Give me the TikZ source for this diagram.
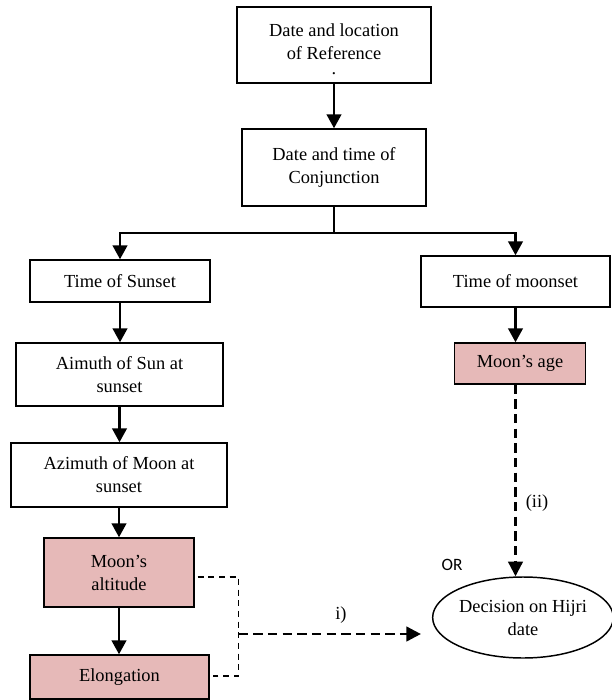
\documentclass[tikz,border=0pt]{standalone}
\usepackage{fontspec}
\setmainfont{Liberation Serif}
\newfontfamily\orfont{Carlito}
\usetikzlibrary{arrows.meta,shapes.geometric,calc}
\newdimen\pxu \pxu=0.75pt
\definecolor{pinkbox}{HTML}{E6B9B8}
\begin{document}
\begin{tikzpicture}[x=0.75pt,y=-0.75pt,
  box/.style={draw=black,line width=1.1pt,fill=white,align=center,inner sep=0pt,
    font=\fontsize{13.8}{17.25}\selectfont},
  pinkb/.style={box,fill=pinkbox},
  arr/.style={line width=1.8pt,-{Triangle[width=11pt,length=10.5pt]}},
  solidline/.style={line width=1.8pt},
  thickdash/.style={line width=1.7pt,dash pattern=on 7pt off 4pt},
  thindash/.style={line width=1.1pt,dash pattern=on 4.5pt off 3.5pt},
  lbl/.style={font=\fontsize{13.8}{17.25}\selectfont,inner sep=0pt}]
\useasboundingbox (0,0) rectangle (611,700);

\node[box,minimum width=194\pxu,minimum height=76\pxu] (b1) at (334,45) {};
\node[lbl,align=center] (b1t) at (334,42) {Date and location\\of Reference};
\node[lbl] (b1dot) at (334,74) {.};
\node[box,minimum width=184\pxu,minimum height=77\pxu] (b2) at (334,167.5)
  {Date and time of\\Conjunction};
\node[box,minimum width=180\pxu,minimum height=42\pxu] (sun) at (120,281)
  {Time of Sunset};
\node[box,minimum width=189\pxu,minimum height=51\pxu] (mset) at (515.5,281.5)
  {Time of moonset};
\node[box,minimum width=207\pxu,minimum height=63\pxu] (aim) at (119.5,374.5)
  {Aimuth of Sun at\\sunset};
\node[pinkb,minimum width=131\pxu,minimum height=41\pxu] (mage) at (520,363.5)
  {Moon’s age};
\node[box,minimum width=216\pxu,minimum height=64\pxu] (azi) at (119,475)
  {Azimuth of Moon at\\sunset};
\node[pinkb,minimum width=150\pxu,minimum height=69\pxu] (alt) at (119,572.5)
  {Moon’s\\altitude};
\node[pinkb,minimum width=179\pxu,minimum height=44\pxu] (elo) at (119.5,677)
  {Elongation};
\node[box,ellipse,minimum width=177\pxu,minimum height=81\pxu] (dec) at (523,617.5)
  {Decision on Hijri\\date};

\node[lbl] (ii) at (537,503) {(ii)};
\node[lbl] (i) at (341,615) {i)};
\node[inner sep=0pt,font=\orfont\fontsize{13}{15}\selectfont] (or) at (452,565) {OR};

\coordinate (split) at (334,233);
\coordinate (br1) at (238.5,577);
\coordinate (br2) at (238.5,676);
\coordinate (bm) at (238.5,634);

\draw[arr] (b1.south) -- (b2.north);
\draw[solidline] (b2.south) -- (split);
\draw[arr] (split) -| (sun.north);
\draw[arr] (split) -| (mset.north);
\draw[arr] (sun.south) -- (sun.south |- aim.north);
\draw[arr] (aim.south) -- (aim.south |- azi.north);
\draw[arr] (azi.south) -- (azi.south |- alt.north);
\draw[arr] (alt.south) -- (alt.south |- elo.north);
\draw[arr] (mset.south) -- (mset.south |- mage.north);
\draw[thickdash,-{Triangle[width=11pt,length=11pt]}] (mset.south |- mage.south) -- (mset.south |- dec.north);
\draw[thindash] ($(alt.east |- br1)+(3,0)$) -- (br1) -- (br2) -- ($(elo.east |- br2)+(3,0)$);
\draw[thickdash,line width=2pt,-{Triangle[width=11pt,length=11pt]},shorten >=11\pxu] (bm) -- (dec.west |- bm);
\end{tikzpicture}
\end{document}
